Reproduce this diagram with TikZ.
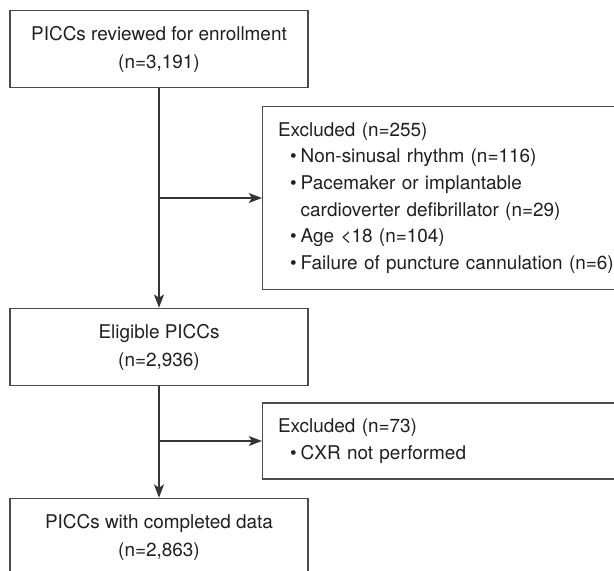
\documentclass[tikz,border=0pt]{standalone}
\usepackage{fontspec}
\setmainfont{TeX Gyre Heros}
\usetikzlibrary{arrows.meta}

\definecolor{boxline}{RGB}{75,75,75}
\definecolor{txtcol}{RGB}{35,31,32}

\tikzset{
  flowbox/.style={draw=boxline, line width=1.1pt, fill=white, text=txtcol,
    minimum width=223.5pt, minimum height=57.75pt, align=center,
    font=\fontsize{14.2pt}{21pt}\selectfont},
  exclbox/.style={draw=boxline, line width=1.1pt, fill=white, text=txtcol,
    anchor=west, text width=300pt, inner xsep=11.5pt, align=left,
    font=\fontsize{14.2pt}{20pt}\selectfont},
  flowarrow/.style={draw=boxline!70!black, line width=1.1pt,
    -{Stealth[length=10pt,width=7.5pt,inset=2.5pt]}}
}

% bullet lines inside the exclusion boxes
\newcommand{\bitem}[1]{\hspace*{9pt}\makebox[8pt][l]{\textbullet}#1}
\newcommand{\bcont}[1]{\hspace*{17pt}#1}

\begin{document}
\begin{tikzpicture}[x=0.75pt,y=0.75pt,yscale=-1,xscale=1]
\useasboundingbox (0,0) rectangle (614,571);
\fill[white] (0,0) rectangle (614,571);
\clip (0,0) rectangle (614,571);

% Text Node
\node [flowbox] (review) at (159,49) {PICCs reviewed for enrollment\\(n=3,191)};
% Text Node
\node [exclbox, minimum height=137.25pt] (excla) at (262,198) {Excluded (n=255)\\
  \bitem{Non-sinusal rhythm (n=116)}\\
  \bitem{Pacemaker or implantable}\\
  \bcont{cardioverter defibrillator (n=29)}\\
  \bitem{Age <18 (n=104)}\\
  \bitem{Failure of puncture cannulation (n=6)}};
% Text Node
\node [flowbox] (eligible) at (159,347) {Eligible PICCs\\(n=2,936)};
% Text Node
\node [exclbox, minimum height=57pt] (exclb) at (262,441) {Excluded (n=73)\\
  \bitem{CXR not performed}};
% Text Node
\node [flowbox] (complete) at (159,537) {PICCs with completed data\\(n=2,863)};

%Straight Lines
\draw [flowarrow] (review.south) -- (eligible.north);
\draw [flowarrow] (review.south |- excla.west) -- (excla.west);
\draw [flowarrow] (eligible.south) -- (complete.north);
\draw [flowarrow] (eligible.south |- exclb.west) -- (exclb.west);

\end{tikzpicture}
\end{document}
